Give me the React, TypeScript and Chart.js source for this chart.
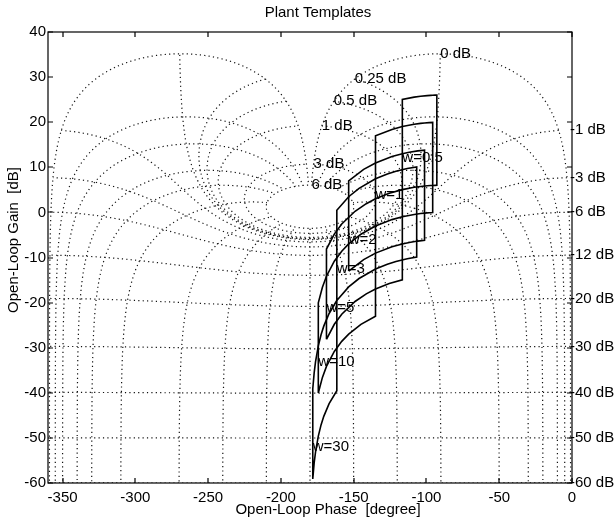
import React, { useEffect, useRef } from "react";
import { Chart, registerables } from "chart.js";

Chart.register(...registerables);

const FONT = '"Liberation Sans", Arial, Helvetica, sans-serif';

// Axis ticks
const phaseTicks = [-350, -300, -250, -200, -150, -100, -50, 0];
const gainTicks = [40, 30, 20, 10, 0, -10, -20, -30, -40, -50, -60];

// Nichols chart grid: closed-loop magnitude (dB) and closed-loop phase (deg) contours
const closedLoopMagDb = [6, 3, 1, 0.5, 0.25, 0, -1, -3, -6, -12, -20, -30, -40, -50, -60];
const closedLoopPhaseDeg = [-1, -5, -10, -20, -30, -50, -90, -120, -150, -180, -210, -240, -270, -310, -330, -340, -350, -355, -359];

// Plant templates: lower edge (minimum gain) traced across the uncertain pole,
// upper edge is the same curve shifted by the gain span.
const templateNames = ["w=0.5", "w=1", "w=2", "w=3", "w=5", "w=10", "w=30"];
const templatePhaseLow = [
  [-116.57, -108.43, -104.04, -99.46, -97.13, -95.71, -94.09, -92.86],
  [-135.0, -123.69, -116.57, -108.43, -104.04, -101.31, -98.13, -95.71],
  [-153.43, -143.13, -135.0, -123.69, -116.57, -111.8, -105.95, -101.31],
  [-161.57, -153.43, -146.31, -135.0, -126.87, -120.96, -113.2, -106.7],
  [-168.69, -163.3, -158.2, -149.04, -141.34, -135.0, -125.54, -116.57],
  [-174.29, -171.47, -168.69, -163.3, -158.2, -153.43, -145.01, -135.0],
  [-178.09, -177.14, -176.19, -174.29, -172.41, -170.54, -166.87, -161.57],
];
const templateGainLow = [
  [5.05, 5.56, 5.76, 5.9, 5.95, 5.98, 6.0, 6.01],
  [-3.01, -1.6, -0.97, -0.46, -0.26, -0.17, -0.09, -0.04],
  [-13.01, -10.46, -9.03, -7.62, -6.99, -6.67, -6.36, -6.19],
  [-19.54, -16.53, -14.66, -12.55, -11.48, -10.88, -10.27, -9.92],
  [-28.13, -24.81, -22.58, -19.75, -18.07, -16.99, -15.77, -14.95],
  [-40.04, -36.58, -34.15, -30.83, -28.6, -26.99, -24.83, -23.01],
  [-59.09, -55.57, -53.08, -49.59, -47.12, -45.22, -42.41, -39.54],
];
const templateGainSpanDb = [20, 20, 20, 20, 20, 20, 20];
const templateLabelGainOffsetDb = 7;

const D2R = Math.PI / 180;

function psiSamples(): number[] {
  const out: number[] = [];
  for (let i = 10; i < 100; i++) out.push(-i / 10);
  for (let i = 20; i < 60; i++) out.push(-i / 2);
  for (let i = 30; i < 330; i++) out.push(-i);
  for (let i = 660; i < 700; i++) out.push(-i / 2);
  for (let i = 3500; i <= 3590; i++) out.push(-i / 10);
  return out;
}

function magContour(mdb: number) {
  const m = Math.pow(10, mdb / 20);
  const pts: { x: number; y: number }[] = [];
  for (const psi of psiSamples()) {
    const r = psi * D2R;
    const tr = m * Math.cos(r);
    const ti = m * Math.sin(r);
    const dr = 1 - tr;
    const di = -ti;
    const den = dr * dr + di * di;
    const gr = (tr * dr + ti * di) / den;
    const gi = (ti * dr - tr * di) / den;
    let ph = Math.atan2(gi, gr) / D2R;
    if (ph > 0) ph -= 360;
    const g = 20 * Math.log10(Math.hypot(gr, gi));
    pts.push({ x: ph, y: g });
  }
  return pts;
}

const MAX_CL = Math.pow(10, closedLoopMagDb[0] / 20);

function clMag(g: number, phi: number) {
  const gr = g * Math.cos(phi);
  const gi = g * Math.sin(phi);
  return g / Math.hypot(1 + gr, gi);
}

function phaseContour(psi: number) {
  const pts: { x: number; y: number }[] = [];
  if (psi === -180) {
    pts.push({ x: -180, y: -80 });
    pts.push({ x: -180, y: 20 * Math.log10(MAX_CL / (1 + MAX_CL)) });
    return pts;
  }
  const mirror = psi < -180;
  const q = mirror ? -360 - psi : psi;
  const tq = Math.tan(q * D2R);
  const gOf = (phiDeg: number) => Math.sin(phiDeg * D2R) / tq - Math.cos(phiDeg * D2R);
  const deltas: number[] = [];
  for (let i = 0; i <= 40; i++) deltas.push(Math.pow(10, -4 + (4 * i) / 40));
  const range = q + 180;
  for (let d = 1.25; d <= range; d += 0.25) deltas.push(d);
  let prevPhi = q;
  for (const d of deltas) {
    const phi = q - d;
    if (phi < -180) break;
    const g = gOf(phi);
    if (g <= 1e-4) { prevPhi = phi; continue; }
    if (clMag(g, phi * D2R) > MAX_CL) {
      let lo = prevPhi, hi = phi;
      for (let k = 0; k < 40; k++) {
        const mid = (lo + hi) / 2;
        if (clMag(gOf(mid), mid * D2R) > MAX_CL) hi = mid; else lo = mid;
      }
      const gg = gOf(lo);
      pts.push({ x: mirror ? -360 - lo : lo, y: 20 * Math.log10(gg) });
      break;
    }
    pts.push({ x: mirror ? -360 - phi : phi, y: 20 * Math.log10(g) });
    prevPhi = phi;
  }
  return pts;
}

export default function App() {
  const ref = useRef<HTMLCanvasElement | null>(null);

  useEffect(() => {
    const canvas = ref.current;
    if (!canvas) return;

    const datasets: any[] = [];
    const labelAnchors: { text: string; x: number; y: number; kind: string }[] = [];

    templatePhaseLow.forEach((ph, i) => {
      const gl = templateGainLow[i];
      const span = templateGainSpanDb[i];
      const pts: { x: number; y: number }[] = [];
      for (let j = 0; j < ph.length; j++) pts.push({ x: ph[j], y: gl[j] });
      for (let j = ph.length - 1; j >= 0; j--) pts.push({ x: ph[j], y: gl[j] + span });
      pts.push({ x: ph[0], y: gl[0] });
      datasets.push({
        data: pts,
        showLine: true,
        borderColor: "#000",
        borderWidth: 1.6,
        pointRadius: 0,
        fill: false,
        order: 0,
      });
      labelAnchors.push({ text: templateNames[i], x: ph[0], y: gl[0] + templateLabelGainOffsetDb, kind: "t" });
    });

    closedLoopMagDb.forEach((mdb) => {
      const pts = magContour(mdb);
      datasets.push({
        data: pts,
        showLine: true,
        borderColor: "#111",
        borderWidth: 1.2,
        borderDash: [1.2, 3.2],
        pointRadius: 0,
        fill: false,
        order: 1,
      });
      if (mdb >= 0) {
        labelAnchors.push({ text: `${mdb} dB`, x: pts[0].x, y: pts[0].y, kind: "p" });
      } else {
        const m = Math.pow(10, mdb / 20);
        labelAnchors.push({ text: `${mdb} dB`, x: 0, y: 20 * Math.log10(m / (1 - m)), kind: "n" });
      }
    });

    closedLoopPhaseDeg.forEach((psi) => {
      datasets.push({
        data: phaseContour(psi),
        showLine: true,
        borderColor: "#111",
        borderWidth: 1.2,
        borderDash: [1.2, 3.2],
        pointRadius: 0,
        fill: false,
        order: 1,
      });
    });

    const overlay = {
      id: "overlay",
      afterDatasetsDraw(chart: any) {
        const { ctx, chartArea: a, scales } = chart;
        const xs = scales.x;
        const ys = scales.y;
        ctx.save();
        ctx.strokeStyle = "#000";
        ctx.lineWidth = 1.2;
        ctx.strokeRect(a.left, a.top, a.right - a.left, a.bottom - a.top);
        ctx.beginPath();
        const tl = 5;
        phaseTicks.forEach((v) => {
          const px = Math.round(xs.getPixelForValue(v));
          ctx.moveTo(px, a.bottom);
          ctx.lineTo(px, a.bottom - tl);
          ctx.moveTo(px, a.top);
          ctx.lineTo(px, a.top + tl);
        });
        gainTicks.forEach((v) => {
          const py = Math.round(ys.getPixelForValue(v));
          ctx.moveTo(a.left, py);
          ctx.lineTo(a.left + tl, py);
          ctx.moveTo(a.right, py);
          ctx.lineTo(a.right - tl, py);
        });
        ctx.stroke();

        ctx.fillStyle = "#000";
        ctx.font = `15px ${FONT}`;
        ctx.textBaseline = "middle";
        ctx.textAlign = "left";
        labelAnchors.forEach((l) => {
          let px = xs.getPixelForValue(l.x);
          const py = ys.getPixelForValue(l.y);
          if (l.kind === "n") px -= 2;
          ctx.fillText(l.text, px, py);
        });

        ctx.textAlign = "center";
        ctx.fillText("Plant Templates", 318, 13);
        ctx.fillText("Open-Loop Phase  [degree]", 328, 510);
        ctx.save();
        ctx.translate(14, 240);
        ctx.rotate(-Math.PI / 2);
        ctx.fillText("Open-Loop Gain  [dB]", 0, 0);
        ctx.restore();
        ctx.restore();
      },
    };

    const chart = new Chart(canvas, {
      type: "scatter",
      data: { datasets },
      options: {
        animation: false,
        responsive: false,
        events: [],
        layout: { padding: { top: 32, right: 42, left: 0, bottom: 0 } },
        plugins: { legend: { display: false }, tooltip: { enabled: false }, title: { display: false } },
        scales: {
          x: {
            type: "linear",
            min: -360,
            max: 0,
            afterBuildTicks: (s: any) => {
              s.ticks = phaseTicks.map((v) => ({ value: v }));
            },
            afterFit: (s: any) => {
              s.height = 36;
            },
            grid: { display: false, drawTicks: false },
            border: { display: false },
            ticks: {
              color: "#000",
              padding: 6,
              maxRotation: 0,
              autoSkip: false,
              font: { family: FONT, size: 15 },
              callback: (v: any) => `${v}`,
            },
          },
          y: {
            type: "linear",
            min: -60,
            max: 40,
            afterBuildTicks: (s: any) => {
              s.ticks = gainTicks.map((v) => ({ value: v }));
            },
            afterFit: (s: any) => {
              s.width = 48;
            },
            grid: { display: false, drawTicks: false },
            border: { display: false },
            ticks: {
              color: "#000",
              padding: 2,
              autoSkip: false,
              font: { family: FONT, size: 15 },
              callback: (v: any) => `${v}`,
            },
          },
        },
      },
      plugins: [overlay],
    });

    return () => chart.destroy();
  }, []);

  return (
    <div style={{ position: "fixed", left: 0, top: 0, width: 614, height: 519, background: "#fff", overflow: "hidden" }}>
      <canvas ref={ref} width={614} height={519} style={{ display: "block" }} />
    </div>
  );
}
